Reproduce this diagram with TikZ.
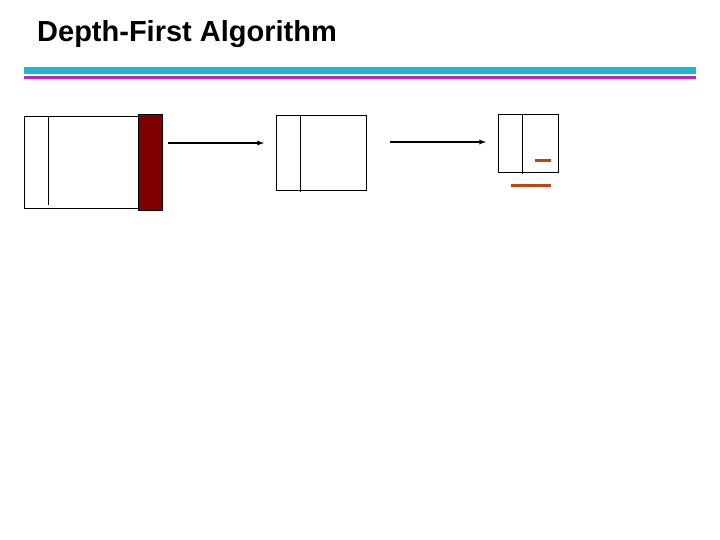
\documentclass[tikz,border=0pt]{standalone}
\usepackage{fontspec}
\setmainfont{Liberation Sans}
\definecolor{bar1}{RGB}{30,180,210}
\definecolor{bar2}{RGB}{190,40,190}
\definecolor{dred}{RGB}{128,0,0}
\definecolor{orng}{RGB}{190,70,20}
\begin{document}
\begin{tikzpicture}[x=1pt,y=-1pt,
  box/.style={draw=black,line width=0.8pt},
  arr/.style={-latex,line width=1.3pt}]
\useasboundingbox (0,0) rectangle (720,540);
\node[anchor=west,inner sep=0pt,font=\bfseries\fontsize{29}{34}\selectfont] (title) at (37,34) {Depth-First Algorithm};
\fill[bar1] (24,67) rectangle (696,74);
\fill[bar2] (24,76) rectangle (696,79);
\draw[box] (24,116) rectangle (139,208);
\draw[box] (48,116) -- (48,205);
\draw[fill=dred,line width=0.8pt] (138,114) rectangle (162,210);
\coordinate (a1s) at (168,143); \coordinate (a1e) at (264,143);
\draw[arr] (a1s) -- (a1e);
\draw[box] (276,115) rectangle (366,190);
\draw[box] (300,115) -- (300,192);
\coordinate (a2s) at (390,142); \coordinate (a2e) at (486,142);
\draw[arr] (a2s) -- (a2e);
\draw[box] (498,114) rectangle (558,172);
\draw[box] (522,114) -- (522,174);
\draw[orng,line width=3pt] (535,161) -- (551,161);
\draw[orng,line width=3pt] (511,186) -- (551,186);
\end{tikzpicture}
\end{document}
